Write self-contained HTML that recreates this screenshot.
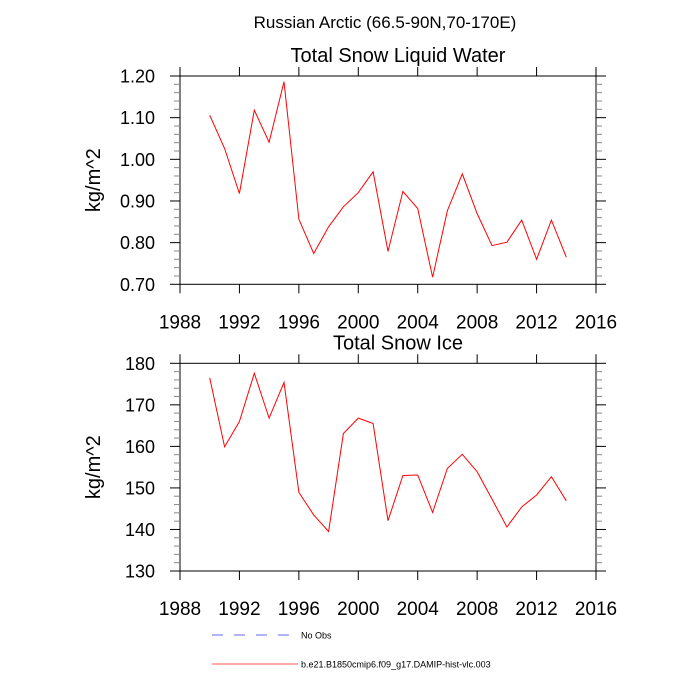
<!DOCTYPE html>
<html><head><meta charset="utf-8">
<style>
html,body{margin:0;padding:0;background:#fff;}
svg{display:block;font-family:"Liberation Sans",Arial,sans-serif;}
</style></head>
<body>
<svg id="chart" width="700" height="700" viewBox="0 0 700 700">
<text x="385" y="28" text-anchor="middle" font-size="17">Russian Arctic (66.5-90N,70-170E)</text>
<g id="p1"></g>
<g id="p2"></g>
<g>
<line x1="212" y1="635" x2="298" y2="635" stroke="#6666ee" stroke-width="1" stroke-dasharray="11,11"/>
<text x="301" y="638.5" font-size="9">No Obs</text>
<line x1="212" y1="664" x2="298" y2="664" stroke="#ff5555" stroke-width="1"/>
<text x="301" y="667.5" font-size="9">b.e21.B1850cmip6.f09_g17.DAMIP-hist-vlc.003</text>
</g>
</svg>
<script>
const years=[1990,1991,1992,1993,1994,1995,1996,1997,1998,1999,2000,2001,2002,2003,2004,2005,2006,2007,2008,2009,2010,2011,2012,2013,2014];
const liquidWater=[1.106,1.026,0.918,1.118,1.041,1.186,0.856,0.774,0.838,0.886,0.920,0.970,0.779,0.923,0.882,0.717,0.877,0.965,0.870,0.793,0.801,0.854,0.760,0.854,0.765];
const snowIce=[176.5,159.9,166.0,177.6,166.8,175.4,148.9,143.5,139.5,163.1,166.8,165.5,142.1,153.0,153.1,144.1,154.7,158.1,153.9,147.3,140.6,145.4,148.3,152.7,146.9];
const xTicks=[1988,1992,1996,2000,2004,2008,2012,2016];
const yTicks1=["0.70","0.80","0.90","1.00","1.10","1.20"];
const yTicks2=["130","140","150","160","170","180"];
const NS="http://www.w3.org/2000/svg";
function mk(parent,tag,attrs){const e=document.createElementNS(NS,tag);for(const k in attrs)e.setAttribute(k,attrs[k]);parent.appendChild(e);return e;}
function panel(g,top,bottom,yMin,yMax,ticks,vals,title,pfx){
  const L=180,R=596;
  const xs=v=>L+(v-1988)/(2016-1988)*(R-L);
  const ys=v=>bottom-(v-yMin)/(yMax-yMin)*(bottom-top);
  const t=mk(g,'text',{x:(L+R)/2+10,y:top-14,'text-anchor':'middle','font-size':'20'});
  t.textContent=title;
  
  
  const fr=mk(g,'rect',{x:L,y:top,width:R-L,height:bottom-top,fill:'none',stroke:'#000','stroke-width':'1'});
  
  
  xTicks.forEach(v=>{
    const x=xs(v);
    mk(g,'line',{x1:x,y1:bottom,x2:x,y2:bottom+9,stroke:'#000'});
    mk(g,'line',{x1:x,y1:top,x2:x,y2:top-9,stroke:'#000'});
    const l=mk(g,'text',{x:x,y:bottom+44,'text-anchor':'middle','font-size':'19'});
    l.textContent=v;
    
    
  });
  const n=ticks.length;
  for(let i=0;i<n;i++){
    const v=yMin+i*(yMax-yMin)/(n-1);const y=ys(v);
    mk(g,'line',{x1:L,y1:y,x2:L-10,y2:y,stroke:'#000'});
    mk(g,'line',{x1:R,y1:y,x2:R+10,y2:y,stroke:'#000'});
    const l=mk(g,'text',{x:155,y:y+6.5,'text-anchor':'end','font-size':'18'});
    l.textContent=ticks[i];
    
    
    if(i<n-1){for(let k=1;k<5;k++){const ym=ys(v+k*(yMax-yMin)/(n-1)/5);
      mk(g,'line',{x1:L,y1:ym,x2:L-6,y2:ym,stroke:'#888'});
      mk(g,'line',{x1:R,y1:ym,x2:R+6,y2:ym,stroke:'#888'});}}
  }
  const yl=mk(g,'text',{x:0,y:0,'text-anchor':'middle','font-size':'20',transform:`translate(100,${(top+bottom)/2}) rotate(-90)`});
  yl.textContent='kg/m^2';
  
  
  const pts=years.map((y,i)=>xs(y).toFixed(1)+','+ys(vals[i]).toFixed(1)).join(' ');
  const pl=mk(g,'polyline',{points:pts,fill:'none',stroke:'#ff0000','stroke-width':'1'});
  
  
}
panel(document.getElementById('p1'),76,284.3,0.70,1.20,yTicks1,liquidWater,'Total Snow Liquid Water','liquid-water');
panel(document.getElementById('p2'),363.3,571,130,180,yTicks2,snowIce,'Total Snow Ice','snow-ice');
</script>
</body></html>
